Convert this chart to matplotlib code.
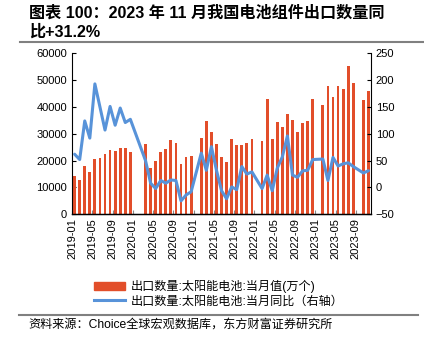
import numpy as np
import pandas as pd
import matplotlib
matplotlib.use('Agg')
import matplotlib.pyplot as plt
from matplotlib.lines import Line2D
from matplotlib.patches import Patch
from matplotlib.transforms import ScaledTranslation

plt.rcParams['font.family'] = ['Liberation Sans', 'Noto Sans CJK SC']
plt.rcParams['axes.unicode_minus'] = True

months = [p.strftime('%Y-%m') for p in pd.period_range('2019-01', '2023-11', freq='M')]

# 出口数量:太阳能电池:当月值(万个), missing months as nan
export_qty = [14300, 12800, 18000, 15700, 20500, 20900, 22600, 24100, 23600, 24700, 24700, 23300,
              np.nan, np.nan, 26200, 17200, 19800, 23200, 24500, 27600, 26600, 18600, 21200, 21800,
              np.nan, 28300, 34900, 30600, 26300, 21400, 19400, 28100, 25700, 25800, 26500, 28200,
              np.nan, 27400, 43000, 28100, 34300, 32700, 37500, 35000, 30700, 33900, 34900, 42900,
              np.nan, 40900, 47800, 43600, 47700, 46800, 55200, 49000, np.nan, 42700, 46000]

# 出口数量:太阳能电池:当月同比(%)
export_yoy = [62, 52, 124, 92, 193, 150, 107, 151, 116, 148, 121, 127,
              np.nan, np.nan, 50, 8, -2, 13, 8, 14, 13, -25, -14, -8,
              np.nan, 64, 32, 76, 32, -6, -21, 1, -4, 39, 25, 29,
              np.nan, -2, 23, -6, 36, 57, 96, 23, 19, 31, 32, 52,
              np.nan, 53, 13, 56, 40, 44, 46, 39, np.nan, 27, 31.2]

bar_color = '#E24E2A'
line_color = '#5893D9'

fig = plt.figure(figsize=(4.24, 3.47), dpi=100)
ax = fig.add_axes([0.17, 0.3824, 0.705, 0.464])
ax2 = ax.twinx()

x = np.arange(len(months))
ax.bar(x, export_qty, width=0.55, color=bar_color, zorder=2)

yoy = np.array(export_yoy, dtype=float)
ok = ~np.isnan(yoy)
ax2.plot(x[ok], yoy[ok], color=line_color, lw=2.2, solid_joinstyle='round', solid_capstyle='round')

ax.set_xlim(-0.5, len(months) - 0.5)
ax.set_ylim(0, 60000)
ax.set_yticks(np.arange(0, 60001, 10000))
ax2.set_ylim(-50, 250)
ax2.set_yticks(np.arange(-50, 251, 50))

tick_idx = np.arange(0, len(months), 4)
ax.set_xticks(tick_idx - 0.5, [months[i] for i in tick_idx], rotation=90)
for lbl in ax.get_xticklabels():
    lbl.set_transform(lbl.get_transform() + ScaledTranslation(3 / 100, 0, fig.dpi_scale_trans))

for a in (ax, ax2):
    a.spines['top'].set_visible(False)
    a.tick_params(labelsize=8, direction='in', length=3, width=0.8)
ax.tick_params(axis='x', colors='#888888', labelcolor='black', pad=3)
ax.spines['bottom'].set_linewidth(1.0)
ax2.spines['left'].set_visible(False)
ax.spines['right'].set_visible(False)

handles = [Patch(color=bar_color), Line2D([], [], color=line_color, lw=2.2)]
labels = ['出口数量:太阳能电池:当月值(万个)', '出口数量:太阳能电池:当月同比（右轴）']
fig.legend(handles, labels, loc='upper left', bbox_to_anchor=(88 / 424, 1 - 274 / 347),
           frameon=False, fontsize=8.7, handlelength=2.6, handletextpad=0.4,
           labelspacing=0.2, borderpad=0)

fig.text(29 / 424, 1 - 13 / 347, '图表 100：2023 年 11 月我国电池组件出口数量同',
         fontsize=11.6, fontweight='bold', va='center', ha='left')
fig.text(29 / 424, 1 - 32 / 347, '比+31.2%', fontsize=11.6, fontweight='bold', va='center', ha='left')
fig.add_artist(Line2D([20 / 424, 1.0], [1 - 42 / 347] * 2, color='#808080', lw=1.5))
fig.add_artist(Line2D([19 / 424, 418 / 424], [1 - 315 / 347] * 2, color='#808080', lw=1.5))
fig.text(28 / 424, 1 - 325 / 347, '资料来源：Choice全球宏观数据库，东方财富证券研究所',
         fontsize=8.7, va='center', ha='left')

fig.savefig('out.png', dpi=100)
